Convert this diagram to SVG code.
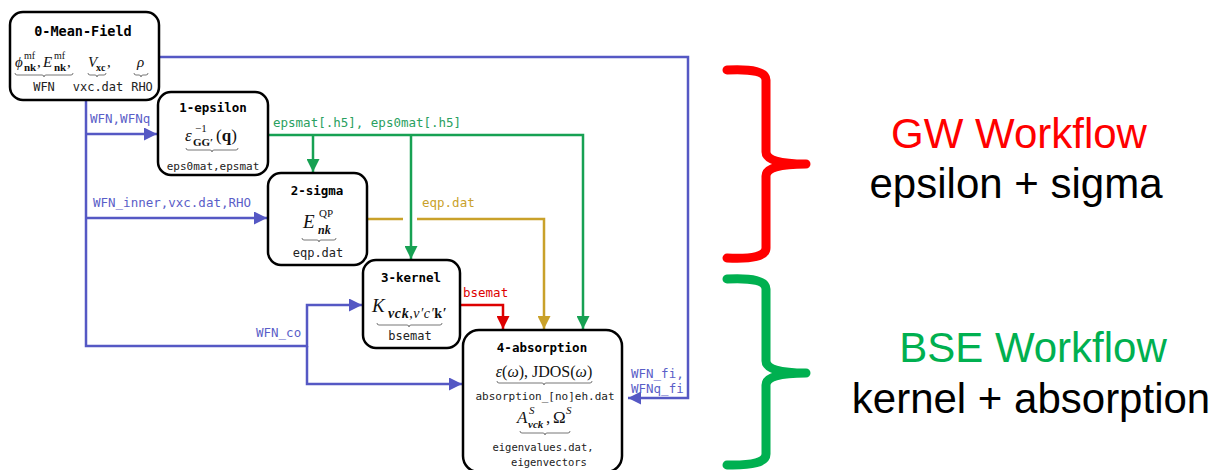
<svg xmlns="http://www.w3.org/2000/svg" width="1223" height="470" viewBox="0 0 1223 470">
<style>
.box{fill:#fff;stroke:#000;stroke-width:2.5}
.title{font-family:"DejaVu Sans Mono","Liberation Mono",monospace;font-weight:bold;font-size:12.5px;fill:#000;text-anchor:middle}
.mono{font-family:"DejaVu Sans Mono","Liberation Mono",monospace;fill:#222;text-anchor:middle}
.m{font-family:"Liberation Serif","DejaVu Serif",serif;fill:#111}
.it{font-style:italic}
.bf{font-weight:bold}
.brace{fill:none;stroke:#777;stroke-width:1}
.lab{font-family:"DejaVu Sans Mono","Liberation Mono",monospace;font-size:12.5px}
.c{fill:none;stroke-width:2.5}
.blue{stroke:#5558c4}
.green{stroke:#17a153}
.gold{stroke:#c9a12a}
.red{stroke:#dd0000}
.big{font-family:"Liberation Sans",Arial,sans-serif;font-size:42px;text-anchor:middle}
.bracket{fill:none;stroke-width:9;stroke-linecap:round;stroke-linejoin:round}
</style>
<defs>
<marker id="aBlue" markerUnits="userSpaceOnUse" markerWidth="13" markerHeight="13" refX="13" refY="6.5" orient="auto"><path d="M0,0 L13,6.5 L0,13 z" fill="#5558c4"/></marker>
<marker id="aGreen" markerUnits="userSpaceOnUse" markerWidth="13" markerHeight="13" refX="13" refY="6.5" orient="auto"><path d="M0,0 L13,6.5 L0,13 z" fill="#17a153"/></marker>
<marker id="aGold" markerUnits="userSpaceOnUse" markerWidth="13" markerHeight="13" refX="13" refY="6.5" orient="auto"><path d="M0,0 L13,6.5 L0,13 z" fill="#c9a12a"/></marker>
<marker id="aRed" markerUnits="userSpaceOnUse" markerWidth="13" markerHeight="13" refX="13" refY="6.5" orient="auto"><path d="M0,0 L13,6.5 L0,13 z" fill="#dd0000"/></marker>
</defs>

<g id="connectors">
<path class="c blue" d="M159,57 H688 V398 H628" marker-end="url(#aBlue)"/>
<path class="c blue" d="M86,100 V346 H307 V305 H362" marker-end="url(#aBlue)"/>
<path class="c blue" d="M307,346 V384 H462" marker-end="url(#aBlue)"/>
<path class="c blue" d="M86,134 H157" marker-end="url(#aBlue)"/>
<path class="c blue" d="M86,218 H267" marker-end="url(#aBlue)"/>
<path class="c green" d="M268,135 H583 V329" marker-end="url(#aGreen)"/>
<path class="c green" d="M313,135 V172" marker-end="url(#aGreen)"/>
<path class="c green" d="M411,135 V259" marker-end="url(#aGreen)"/>
<path class="c gold" d="M367,219 H403"/>
<path class="c gold" d="M417,219 H544 V329" marker-end="url(#aGold)"/>
<path class="c red" d="M460,305 H503 V329" marker-end="url(#aRed)"/>
<text class="lab" x="90" y="123" fill="#5a5ec8">WFN,WFNq</text>
<text class="lab" x="93" y="207" fill="#5a5ec8">WFN_inner,vxc.dat,RHO</text>
<text class="lab" x="256" y="337" fill="#5a5ec8">WFN_co</text>
<text class="lab" x="631" y="378" fill="#5a5ec8">WFN_fi,</text>
<text class="lab" x="631" y="393" fill="#5a5ec8">WFNq_fi</text>
<text class="lab" x="273" y="127" fill="#2aa060">epsmat[.h5], eps0mat[.h5]</text>
<text class="lab" x="422" y="207" fill="#c9a12a">eqp.dat</text>
<text class="lab" x="463" y="297" fill="#dd0000">bsemat</text>
</g>

<g id="node0">
<rect class="box" x="10" y="12" width="149" height="88" rx="13"/>
<text class="title" x="83" y="36" style="font-size:13.5px">0-Mean-Field</text>
<text class="m it" x="15" y="67" font-size="15">ϕ</text>
<text class="m" x="24" y="59" font-size="10">mf</text>
<text class="m bf" x="24" y="71" font-size="11">nk</text>
<text class="m" x="37" y="67" font-size="15">,</text>
<text class="m it" x="43" y="67" font-size="15">E</text>
<text class="m" x="54" y="59" font-size="10">mf</text>
<text class="m bf" x="54" y="71" font-size="11">nk</text>
<text class="m" x="67" y="67" font-size="15">,</text>
<text class="m it" x="88" y="67" font-size="15">V</text>
<text class="m bf" x="96" y="71" font-size="10">xc</text>
<text class="m" x="107" y="67" font-size="15">,</text>
<text class="m it" x="137" y="67" font-size="15">ρ</text>
<path class="brace" d="M15,73 q0,2 2,2 H42 q2,0 2,2 q0,-2 2,-2 H71 q2,0 2,-2"/>
<path class="brace" d="M88,73 q0,2 2,2 H95 q2,0 2,2 q0,-2 2,-2 H104 q2,0 2,-2"/>
<path class="brace" d="M134,73 q0,2 2,2 H139 q2,0 2,2 q0,-2 2,-2 H146 q2,0 2,-2"/>
<text class="mono" x="44" y="91" font-size="12">WFN</text>
<text class="mono" x="98" y="91" font-size="12">vxc.dat</text>
<text class="mono" x="142" y="91" font-size="12">RHO</text>
</g>

<g id="node1">
<rect class="box" x="158" y="92" width="110" height="83" rx="13"/>
<text class="title" x="213" y="112">1-epsilon</text>
<text class="m it" x="185" y="141" font-size="17">ε</text>
<text class="m" x="195" y="132" font-size="11">−1</text>
<text class="m bf" x="193" y="146" font-size="11">GG′</text>
<text class="m" x="216" y="141" font-size="17">(<tspan class="bf">q</tspan>)</text>
<path class="brace" d="M186,148 q0,2 2,2 H210 q2,0 2,2 q0,-2 2,-2 H236 q2,0 2,-2"/>
<text class="mono" x="213" y="170" font-size="11">eps0mat,epsmat</text>
</g>

<g id="node2">
<rect class="box" x="268" y="173" width="99" height="92" rx="13"/>
<text class="title" x="317" y="195">2-sigma</text>
<text class="m it" x="303" y="228" font-size="19">E</text>
<text class="m" x="319" y="217" font-size="11">QP</text>
<text class="m it bf" x="318" y="234" font-size="12">nk</text>
<path class="brace" d="M302,238 q0,2 2,2 H317 q2,0 2,2 q0,-2 2,-2 H334 q2,0 2,-2"/>
<text class="mono" x="318" y="257" font-size="12">eqp.dat</text>
</g>

<g id="node3">
<rect class="box" x="363" y="260" width="97" height="88" rx="13"/>
<text class="title" x="411" y="282">3-kernel</text>
<text class="m it" x="372" y="312" font-size="19">K</text>
<text class="m" x="388" y="318" font-size="14" letter-spacing="0.6"><tspan class="it bf">vck</tspan>,<tspan class="it">v′c′</tspan><tspan class="bf">k′</tspan></text>
<path class="brace" d="M377,323 q0,2 2,2 H407 q2,0 2,2 q0,-2 2,-2 H440 q2,0 2,-2"/>
<text class="mono" x="410" y="340" font-size="12">bsemat</text>
</g>

<g id="node4">
<rect class="box" x="463" y="330" width="159" height="142" rx="16"/>
<text class="title" x="542" y="352">4-absorption</text>
<text class="m" x="544" y="377" font-size="16" text-anchor="middle"><tspan class="it">ε</tspan>(<tspan class="it">ω</tspan>), JDOS(<tspan class="it">ω</tspan>)</text>
<path class="brace" d="M497,381 q0,2 2,2 H542 q2,0 2,2 q0,-2 2,-2 H590 q2,0 2,-2"/>
<text class="mono" x="545" y="400" font-size="11">absorption_[no]eh.dat</text>
<text class="m it" x="517" y="423" font-size="17">A</text>
<text class="m it" x="529" y="414" font-size="11">S</text>
<text class="m it bf" x="528" y="428" font-size="11">vck</text>
<text class="m" x="546" y="423" font-size="17">,</text>
<text class="m" x="553" y="423" font-size="17">Ω</text>
<text class="m it" x="566" y="414" font-size="11">S</text>
<path class="brace" d="M520,431 q0,2 2,2 H543 q2,0 2,2 q0,-2 2,-2 H568 q2,0 2,-2"/>
<text class="mono" x="543" y="451" font-size="10.5">eigenvalues.dat,</text>
<text class="mono" x="549" y="466" font-size="10.5">eigenvectors</text>
</g>

<g id="gw-workflow">
<path class="bracket" stroke="#ff0000" d="M727,70 Q766,68 766,80 V152 Q766,164 806,164 Q766,164 766,176 V248 Q766,260 727,258"/>
<text class="big" x="1019" y="148" fill="#ff0000">GW Workflow</text>
<text class="big" x="1016" y="198" fill="#000">epsilon + sigma</text>
</g>

<g id="bse-workflow">
<path class="bracket" stroke="#00b050" d="M727,279 Q766,277 766,289 V361 Q766,373 806,373 Q766,373 766,385 V454 Q766,466 727,465"/>
<text class="big" x="1033" y="362" fill="#00b050">BSE Workflow</text>
<text class="big" x="1031" y="413" fill="#000">kernel + absorption</text>
</g>
</svg>
